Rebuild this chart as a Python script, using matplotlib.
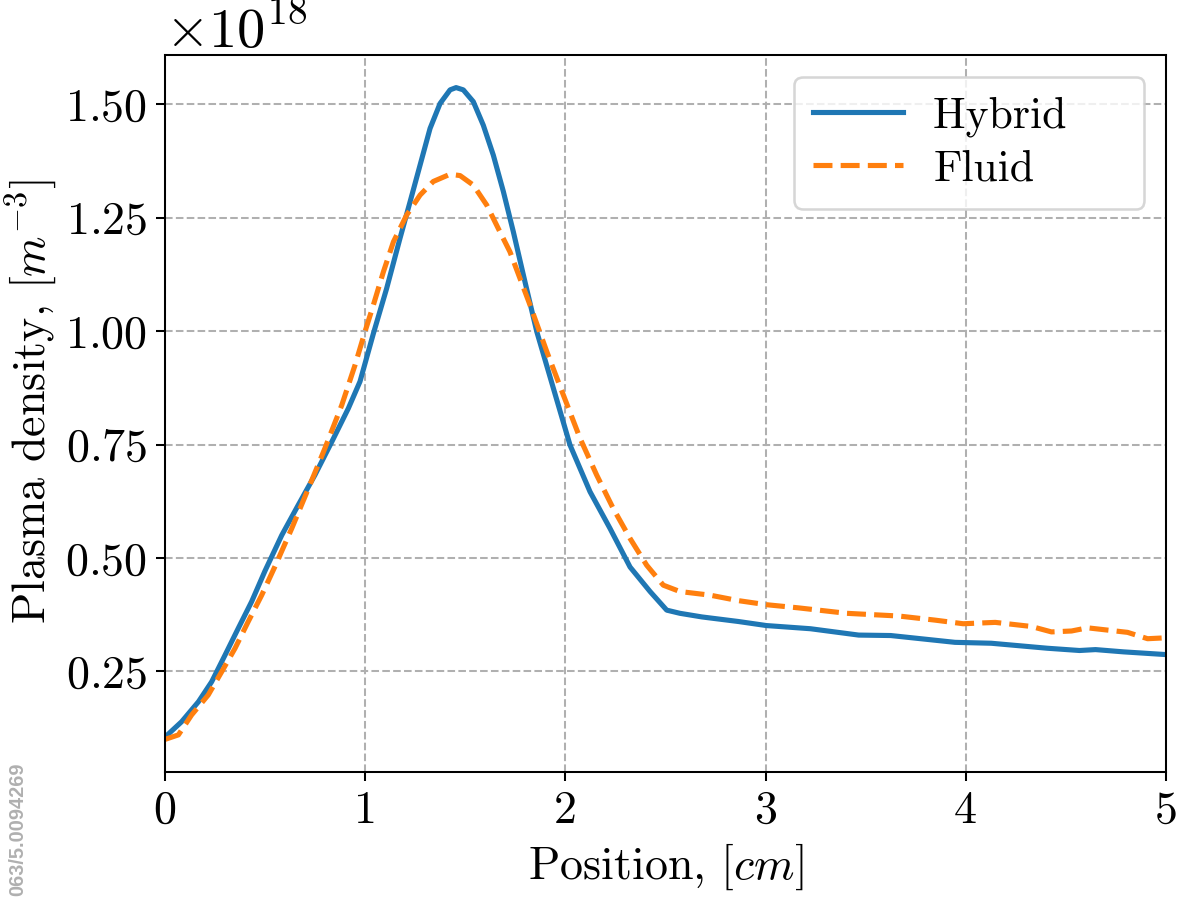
import matplotlib
matplotlib.use("Agg")
import matplotlib.pyplot as plt

plt.rcParams['font.family'] = 'serif'
plt.rcParams['font.serif'] = ['cmr10']
plt.rcParams['mathtext.fontset'] = 'cm'
plt.rcParams['axes.formatter.use_mathtext'] = True
plt.rcParams['axes.unicode_minus'] = False

# Data (position in cm, density in units of 1e18 m^-3)
hybrid_x = [0.0, 0.083, 0.167, 0.233, 0.300, 0.366, 0.433, 0.500, 0.583, 0.666,
            0.749, 0.833, 0.916, 0.974, 1.041, 1.107, 1.174, 1.224, 1.274, 1.324,
            1.374, 1.424, 1.454, 1.490, 1.540, 1.590, 1.640, 1.690, 1.740, 1.790,
            1.857, 1.940, 2.023, 2.123, 2.223, 2.323, 2.423, 2.506, 2.572, 2.682,
            2.863, 3.004, 3.224, 3.465, 3.625, 3.946, 4.127, 4.407, 4.568, 4.648,
            4.788, 5.0]
hybrid_y = [0.105, 0.139, 0.183, 0.227, 0.286, 0.345, 0.404, 0.472, 0.550, 0.617,
            0.683, 0.756, 0.830, 0.889, 0.995, 1.094, 1.205, 1.285, 1.366, 1.447,
            1.502, 1.532, 1.537, 1.532, 1.506, 1.454, 1.388, 1.308, 1.219, 1.124,
            0.999, 0.874, 0.749, 0.646, 0.565, 0.480, 0.426, 0.385, 0.378, 0.370,
            0.360, 0.351, 0.344, 0.330, 0.329, 0.314, 0.312, 0.301, 0.296, 0.298,
            0.293, 0.287]

fluid_x = [0.0, 0.067, 0.133, 0.216, 0.283, 0.350, 0.416, 0.483, 0.549, 0.633,
           0.716, 0.799, 0.883, 0.949, 0.999, 1.041, 1.091, 1.141, 1.207, 1.274,
           1.340, 1.424, 1.474, 1.540, 1.607, 1.673, 1.723, 1.823, 1.907, 1.990,
           2.073, 2.156, 2.239, 2.323, 2.406, 2.489, 2.572, 2.723, 2.863, 3.004,
           3.164, 3.405, 3.666, 3.846, 3.987, 4.147, 4.327, 4.428, 4.528, 4.608,
           4.808, 4.908, 5.0]
fluid_y = [0.100, 0.110, 0.154, 0.198, 0.249, 0.301, 0.360, 0.418, 0.481, 0.565,
           0.653, 0.742, 0.837, 0.925, 0.999, 1.058, 1.131, 1.197, 1.256, 1.300,
           1.330, 1.346, 1.343, 1.322, 1.278, 1.219, 1.175, 1.058, 0.955, 0.859,
           0.764, 0.683, 0.609, 0.543, 0.484, 0.440, 0.426, 0.418, 0.406, 0.397,
           0.390, 0.378, 0.372, 0.363, 0.355, 0.358, 0.349, 0.337, 0.339, 0.346,
           0.336, 0.322, 0.324]

scale = 1e18
x_ticks = [0, 1, 2, 3, 4, 5]
x_ticklabels = ['0', '1', '2', '3', '4', '5']
y_ticks = [0.25, 0.50, 0.75, 1.00, 1.25, 1.50]
series_labels = ['Hybrid', 'Fluid']

fig = plt.figure(figsize=(1181 / 184.5, 898 / 184.5), dpi=184.5)
ax = fig.add_axes([165 / 1181, 1 - 772 / 898, (1166 - 165) / 1181, (772 - 55) / 898])

ax.plot(hybrid_x, [v * scale for v in hybrid_y], color='#1f77b4', lw=2,
        label=series_labels[0] + '    ')
ax.plot(fluid_x, [v * scale for v in fluid_y], color='#ff7f0e', lw=2, ls='--',
        label=series_labels[1])

ax.set_xlim(0, 5)
ax.set_xticks(x_ticks)
ax.set_xticklabels(x_ticklabels)
ax.set_yticks([v * scale for v in y_ticks])
ax.grid(True, ls='--', color='#b0b0b0')
ax.tick_params(labelsize=18)
ax.yaxis.get_offset_text().set_fontsize(22)

ax.set_xlabel('Position, [$cm$]', fontsize=18)
ax.set_ylabel('Plasma density, [$m^{-3}$]', fontsize=18, labelpad=2.5)
ax.yaxis.label.set_y(0.516)
ax.legend(loc='upper right', fontsize=17, labelspacing=0.28, handlelength=2.06,
          handletextpad=0.69, borderpad=0.45)

fig.text(18 / 1181, 2 / 898, '063/5.0094269', rotation=90,
         ha='center', va='bottom', color='#b0b0b0', fontsize=7.8, fontweight='bold',
         family=['Liberation Sans Narrow', 'Liberation Sans', 'DejaVu Sans'])

fig.savefig('out.png', dpi=184.5)
